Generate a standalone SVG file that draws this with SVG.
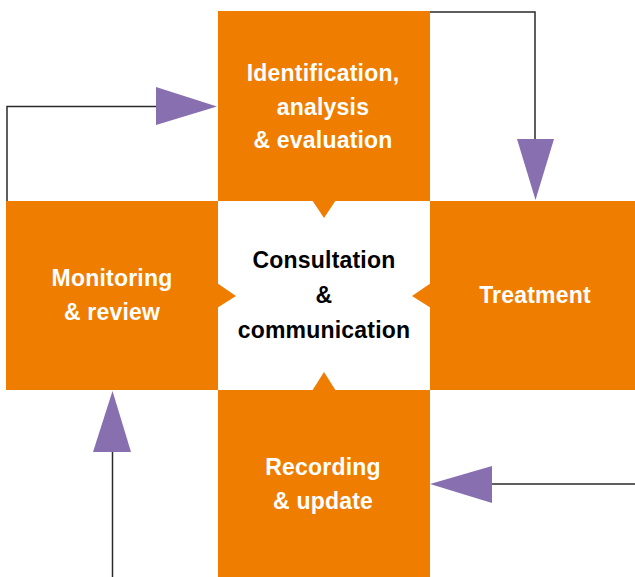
<svg xmlns="http://www.w3.org/2000/svg" width="635" height="577" viewBox="0 0 635 577">
<style>
.box{fill:#EF7D00}
.lbl{font-family:"Liberation Sans",Arial,sans-serif;font-weight:bold;font-size:23px;text-anchor:middle;fill:#fff;letter-spacing:0.2px}
.dark{fill:#000}
.ln{fill:none;stroke:#2a2a2a;stroke-width:1.5}
.ah{fill:#8870B0}
</style>
<rect width="635" height="577" fill="#fff"/>
<g id="identification">
<rect class="box" x="218" y="11" width="212" height="190"/>
<polygon class="box" points="312,200 336,200 324,218"/>
<text class="lbl" x="323" y="81">Identification,</text>
<text class="lbl" x="323" y="115">analysis</text>
<text class="lbl" x="323" y="148">&amp; evaluation</text>
</g>
<g id="monitoring">
<rect class="box" x="6" y="201" width="212" height="189"/>
<polygon class="box" points="217,283 217,308 236,296"/>
<text class="lbl" x="112" y="286">Monitoring</text>
<text class="lbl" x="112" y="320">&amp; review</text>
</g>
<g id="treatment">
<rect class="box" x="430" y="201" width="205" height="189"/>
<polygon class="box" points="431,283 431,308 412,296"/>
<text class="lbl" x="535" y="303">Treatment</text>
</g>
<g id="recording">
<rect class="box" x="218" y="390" width="212" height="187"/>
<polygon class="box" points="312,391 336,391 324,372"/>
<text class="lbl" x="323" y="475">Recording</text>
<text class="lbl" x="323" y="509">&amp; update</text>
</g>
<g id="consultation">
<text class="lbl dark" x="324" y="268">Consultation</text>
<text class="lbl dark" x="324" y="303">&amp;</text>
<text class="lbl dark" x="324" y="338">communication</text>
</g>
<g id="connectors">
<polyline class="ln" points="430,12 535,12 535,140"/>
<polygon class="ah" points="517,139 554,139 535.5,200"/>
<polyline class="ln" points="635,484 491,484"/>
<polygon class="ah" points="492,466 492,503 430,484"/>
<polyline class="ln" points="112.5,577 112.5,452"/>
<polygon class="ah" points="93,452 131,452 112.5,391"/>
<polyline class="ln" points="7,201 7,106.5 157,106.5"/>
<polygon class="ah" points="156,87 156,125 217,106.5"/>
</g>
</svg>
